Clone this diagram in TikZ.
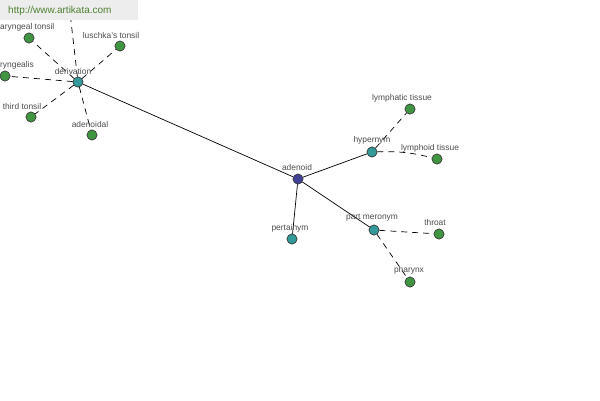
\documentclass[tikz,border=0pt]{standalone}
\usepackage{fontspec}
\setmainfont{Liberation Sans}
\definecolor{wmgreen}{HTML}{4E8030}
\begin{document}
\begin{tikzpicture}[x=1pt,y=-1pt,
  dot/.style={circle,draw=black!75,line width=0.6pt,minimum size=10pt,inner sep=0pt},
  rootdot/.style={dot,fill=blue!45!black!75!white},
  reldot/.style={dot,fill=teal!80!white},
  leafdot/.style={dot,fill=green!45!black!75!white},
  lbl/.style={font=\fontsize{8.4}{9}\selectfont,text=black!70,inner sep=0pt},
  solidedge/.style={draw=black,line width=0.7pt},
  dashedge/.style={draw=black,line width=0.7pt,dash pattern=on 6pt off 5pt}]
\useasboundingbox (0,0) rectangle (600,400);
\clip (0,0) rectangle (600,400);
\fill[white] (0,0) rectangle (600,400);
% nodes
\node[rootdot] (adenoid) at (298,179) {};
\node[reldot] (deriv) at (78,82) {};
\node[reldot] (hyper) at (372,152) {};
\node[reldot] (partm) at (374,230) {};
\node[reldot] (pert) at (292,239) {};
\node[leafdot] (lymphatic) at (410,109) {};
\node[leafdot] (lymphoid) at (437,159) {};
\node[leafdot] (throat) at (439,234) {};
\node[leafdot] (pharynx) at (410,282) {};
\node[leafdot] (phtonsil) at (29,38) {};
\node[leafdot] (luschka) at (120,46) {};
\node[leafdot] (phalis) at (5,76) {};
\node[leafdot] (third) at (31,117) {};
\node[leafdot] (adenoidal) at (92,135) {};
\coordinate (hidden) at (69,4);
% edges
\draw[solidedge] (adenoid) -- (deriv);
\draw[solidedge] (adenoid) -- (hyper);
\draw[solidedge] (adenoid) -- (partm);
\draw[solidedge] (adenoid) -- (pert);
\draw[dashedge] (hyper) -- (lymphatic);
\draw[dashedge] (hyper) to[bend left=8] (lymphoid);
\draw[dashedge] (partm) -- (throat);
\draw[dashedge] (partm) -- (pharynx);
\draw[dashedge] (deriv) -- (phtonsil);
\draw[dashedge] (deriv) -- (luschka);
\draw[dashedge] (deriv) -- (phalis);
\draw[dashedge] (deriv) -- (third);
\draw[dashedge] (deriv) -- (adenoidal);
\draw[dashedge] (deriv) -- (hidden);
% redraw nodes on top
\foreach \n in {adenoid} {\node[rootdot] at (\n) {};}
\foreach \n in {deriv,hyper,partm,pert} {\node[reldot] at (\n) {};}
\foreach \n in {lymphatic,lymphoid,throat,pharynx,phtonsil,luschka,phalis,third,adenoidal} {\node[leafdot] at (\n) {};}
% labels
\node[lbl] (l1) at (297,167) {adenoid};
\node[lbl] (l2) at (73,71) {derivation};
\node[lbl] (l3) at (372,140) {hypernym};
\node[lbl] (l4) at (372,218) {part meronym};
\node[lbl] (l5) at (290,228) {pertainym};
\node[lbl] (l6) at (402,98) {lymphatic tissue};
\node[lbl] (l7) at (430,148) {lymphoid tissue};
\node[lbl] (l8) at (435,222) {throat};
\node[lbl] (l9) at (409,270) {pharynx};
\node[lbl] (l10) at (90,124) {adenoidal};
\node[lbl] (l11) at (22,106) {third tonsil};
\node[lbl] (l12) at (111,35) {luschka's tonsil};
\node[lbl,anchor=west] (l13) at (0,27) {aryngeal tonsil};
\node[lbl,anchor=west] (l14) at (0,65) {ryngealis};
% watermark
\fill[black!7] (0,0) rectangle (138,20);
\node[font=\fontsize{10}{11}\selectfont,text=wmgreen,inner sep=0pt,anchor=west] (wm) at (8,11) {http://www.artikata.com};
\end{tikzpicture}
\end{document}
